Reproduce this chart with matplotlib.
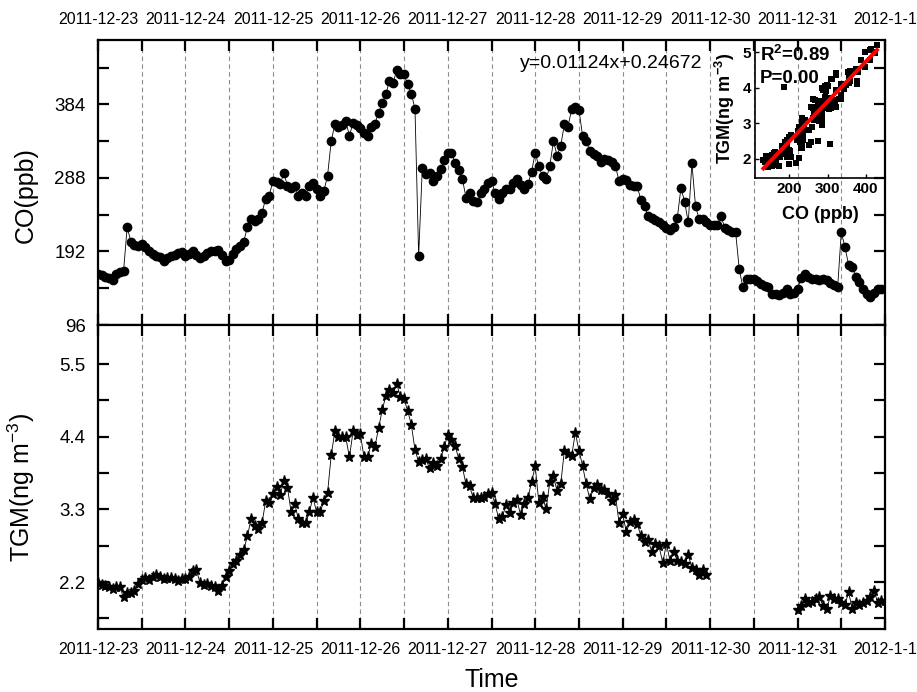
import matplotlib.pyplot as plt
import numpy as np
import pandas as pd

nan = np.nan

# hourly CO (ppb), 2011-12-23 00:00 .. 2012-01-01 00:00
co = [
    163, 161, 159, 157, 155, 162, 165, 166, 224, 205, 200, 199, 202, 198, 193, 189, 186, 185, 180, 183, 186, 188, 190, 191,
    186, 189, 193, 188, 184, 186, 190, 192, 193, 194, 188, 180, 181, 189, 195, 199, 205, 224, 234, 232, 234, 242, 261, 265,
    284, 283, 280, 294, 278, 275, 277, 265, 268, 264, 278, 281, 274, 264, 271, 291, 336, 358, 355, 357, 362, 343, 360, 357,
    353, 347, 343, 355, 359, 373, 386, 398, 414, 412, 429, 423, 423, 410, 398, 378, 186, 301, 293, 295, 284, 290, 299, 311,
    321, 321, 308, 298, 287, 262, 268, 258, 256, 268, 274, 282, 284, 268, 261, 268, 273, 274, 281, 287, 279, 274, 280, 296,
    321, 303, 290, 286, 304, 336, 317, 330, 358, 355, 378, 380, 377, 343, 336, 323, 319, 316, 309, 313, 311, 309, 304, 284,
    286, 285, 279, 277, 277, 259, 251, 238, 236, 233, 230, 227, 223, 220, 224, 236, 275, 257, 230, 307, 251, 234, 234, 230,
    227, 227, 227, 238, 223, 220, 217, 217, 169, 145, 156, 156, 156, 153, 149, 147, 145, 137, 137, 135, 138, 143, 137, 138,
    143, 158, 162, 159, 156, 156, 155, 156, 155, 151, 148, 145, 217, 198, 175, 172, 159, 152, 143, 136, 132, 138, 143, 143,
    143,
]

# hourly TGM (ng m-3), gap on 2011-12-30
tgm = [
    2.19, 2.155, 2.14, 2.12, 2.10, 2.12, 2.12, 1.97, 2.03, 2.04, 2.07, 2.17, 2.23, 2.26, 2.23, 2.27, 2.31, 2.27, 2.24, 2.26, 2.26, 2.24, 2.22, 2.24,
    2.24, 2.27, 2.37, 2.38, 2.19, 2.155, 2.17, 2.14, 2.13, 2.06, 2.14, 2.28, 2.37, 2.47, 2.52, 2.61, 2.68, 2.90, 3.15, 3.05, 3.01, 3.09, 3.42, 3.39,
    3.53, 3.64, 3.52, 3.73, 3.63, 3.26, 3.38, 3.15, 3.09, 3.09, 3.26, 3.48, 3.26, 3.26, 3.43, 3.55, 4.12, 4.48, 4.39, 4.39, 4.39, 4.09, 4.48, 4.43,
    4.44, 4.09, 4.10, 4.29, 4.25, 4.53, 4.80, 5.02, 5.10, 5.06, 5.20, 5.00, 4.97, 4.79, 4.58, 4.20, 4.02, 4.05, 4.06, 3.92, 4.00, 3.96, 4.06, 4.24,
    4.43, 4.35, 4.26, 4.07, 3.94, 3.68, 3.65, 3.47, 3.47, 3.47, 3.49, 3.53, 3.55, 3.38, 3.15, 3.19, 3.37, 3.25, 3.39, 3.44, 3.21, 3.38, 3.47, 3.72,
    3.95, 3.40, 3.49, 3.30, 3.72, 3.80, 3.58, 3.68, 4.19, 4.14, 4.11, 4.46, 4.19, 3.96, 3.68, 3.45, 3.62, 3.67, 3.60, 3.60, 3.53, 3.43, 3.52, 3.10,
    3.23, 2.96, 3.11, 3.14, 3.08, 2.90, 2.81, 2.83, 2.66, 2.78, 2.74, 2.49, 2.78, 2.52, 2.66, 2.52, 2.51, 2.48, 2.61, 2.41, 2.38, 2.31, 2.39, 2.31,
    nan, nan, nan, nan, nan, nan, nan, nan, nan, nan, nan, nan, nan, nan, nan, nan, nan, nan, nan, nan, nan, nan, nan, nan,
    1.78, 1.84, 1.94, 1.88, 1.90, 1.94, 1.97, 1.84, 1.79, 1.99, 1.94, 1.94, 1.88, 1.85, 2.05, 1.80, 1.89, 1.85, 1.89, 1.92, 1.97, 2.07, 1.89, 1.92,
    1.92,
]

day_labels = ["2011-12-23", "2011-12-24", "2011-12-25", "2011-12-26", "2011-12-27",
              "2011-12-28", "2011-12-29", "2011-12-30", "2011-12-31", "2012-1-1"]
co_ticks = [96, 192, 288, 384]
tgm_ticks = [2.2, 3.3, 4.4, 5.5]
slope, intercept = 0.01124, 0.24672
r2_text = "0.89"
p_text = "0.00"

plt.rcParams['font.family'] = 'Liberation Sans'
plt.rcParams['mathtext.fontset'] = 'custom'
plt.rcParams['mathtext.rm'] = 'Liberation Sans'
plt.rcParams['mathtext.bf'] = 'Liberation Sans:bold'
plt.rcParams['mathtext.default'] = 'regular'

co = np.array(co, dtype=float)
tgm = np.array(tgm, dtype=float)
times = pd.date_range('2011-12-23 00:00', periods=len(co), freq='h')
days = pd.date_range('2011-12-23', periods=len(day_labels), freq='D')
halves = pd.date_range('2011-12-23 12:00', periods=len(day_labels) - 1, freq='D')

fig = plt.figure(figsize=(9.17, 6.92), dpi=100)
ax1 = fig.add_axes([0.1069, 0.5303, 0.8582, 0.4119])
ax2 = fig.add_axes([0.1069, 0.0910, 0.8582, 0.4393])

ax1.plot(times, co, '-o', color='black', lw=0.6, ms=6)
ax2.plot(times, tgm, '-*', color='black', lw=0.6, ms=8)

for ax in (ax1, ax2):
    ax.set_xlim(days[0], days[-1])
    ax.set_xticks(days)
    ax.set_xticklabels(day_labels)
    ax.set_xticks(halves, minor=True)
    ax.grid(which='both', axis='x', ls=(0, (4, 3)), color='#8c8c8c', lw=0.8)
    ax.tick_params(which='both', direction='in', length=8, width=1.6, top=True, right=True)
    ax.tick_params(axis='x', which='major', labelsize=11.5, pad=9)
    ax.tick_params(axis='y', labelsize=13.5, pad=9)
    for s in ax.spines.values():
        s.set_linewidth(1.6)

ax1.tick_params(axis='x', which='both', labeltop=True, labelbottom=False)
ax2.tick_params(axis='x', which='both', labeltop=False, labelbottom=True)

ax1.set_ylim(96, 468)
ax1.set_yticks(co_ticks)
ax1.set_yticks([t + 48 for t in co_ticks], minor=True)
ax1.set_ylabel('CO(ppb)', fontsize=18)
ax1.yaxis.set_label_coords(-0.077, 0.455)

ax2.set_ylim(1.49, 6.09)
ax2.set_yticks(tgm_ticks)
ax2.set_yticklabels([f'{t:.1f}' for t in tgm_ticks])
ax2.set_yticks([t - 0.55 for t in tgm_ticks], minor=True)
ax2.set_ylabel('TGM(ng m$^{-3}$)', fontsize=18)
ax2.yaxis.set_label_coords(-0.077, 0.465)
ax2.set_xlabel('Time', fontsize=18, labelpad=8)

ax1.text(0.652, 0.919, f'y={slope:.5f}x+{intercept:.5f}', transform=ax1.transAxes,
         ha='center', va='center', fontsize=14)

# inset scatter
ok = ~np.isnan(tgm)
ins = fig.add_axes([0.8233, 0.7432, 0.1418, 0.199])
ins.patch.set_visible(False)
ins.scatter(co[ok], tgm[ok], marker='s', s=20, color='black', lw=0)
fit_x = np.array([co[ok].min(), co[ok].max()])
ins.plot(fit_x, slope * fit_x + intercept, color='red', lw=2.8)
ins.set_xlim(110, 450)
ins.set_ylim(1.47, 5.35)
ins.set_xticks([200, 300, 400])
ins.set_yticks([2, 3, 4, 5])
ins.tick_params(direction='in', length=3, width=1, labelsize=11, pad=3)
for lbl in ins.get_xticklabels() + ins.get_yticklabels():
    lbl.set_fontweight('bold')
ins.spines['top'].set_visible(False)
ins.spines['right'].set_visible(False)
ins.spines['left'].set_linewidth(1.2)
ins.spines['bottom'].set_linewidth(1.2)
ins.set_xlabel('CO (ppb)', fontsize=13, fontweight='bold', labelpad=7)
ins.set_ylabel(r'TGM(ng m$^{\mathbf{-3}}$)', fontsize=13, fontweight='bold', labelpad=4)
ins.text(0.04, 0.89, r'R$^{\mathbf{2}}$=' + r2_text, transform=ins.transAxes,
         fontsize=13.5, fontweight='bold', va='center')
ins.text(0.04, 0.72, 'P=' + p_text, transform=ins.transAxes,
         fontsize=13.5, fontweight='bold', va='center')

fig.savefig('out.png', dpi=100)
